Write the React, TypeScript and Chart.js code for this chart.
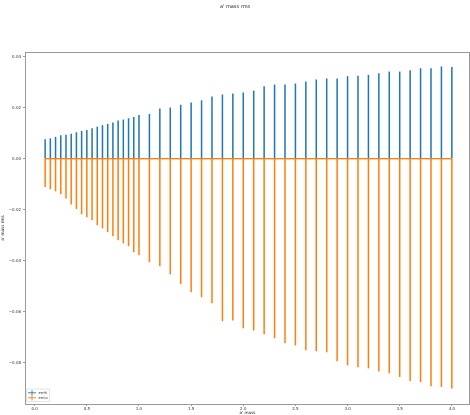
import React, { useEffect, useRef } from "react";
import { Chart, registerables } from "chart.js";

Chart.register(...registerables);

const massValues = [
  0.1, 0.15, 0.2, 0.25, 0.3, 0.35, 0.4, 0.45, 0.5, 0.55, 0.6, 0.65, 0.7, 0.75, 0.8, 0.85, 0.9, 0.95, 1.0,
  1.1, 1.2, 1.3, 1.4, 1.5, 1.6, 1.7, 1.8, 1.9, 2.0, 2.1, 2.2, 2.3, 2.4, 2.5, 2.6, 2.7, 2.8, 2.9, 3.0,
  3.1, 3.2, 3.3, 3.4, 3.5, 3.6, 3.7, 3.8, 3.9, 4.0,
];

const centralValues = massValues.map(() => 0);

const errHi = [
  0.0075, 0.0078, 0.0084, 0.009, 0.0092, 0.0096, 0.0102, 0.0107, 0.0111, 0.0118, 0.0124, 0.013, 0.0135,
  0.014, 0.0148, 0.0152, 0.0157, 0.0162, 0.017, 0.0174, 0.0195, 0.0199, 0.021, 0.0219, 0.0227, 0.0242,
  0.025, 0.0254, 0.0258, 0.0265, 0.0282, 0.0289, 0.0289, 0.0293, 0.0301, 0.0309, 0.0313, 0.0313, 0.0322,
  0.0324, 0.0327, 0.0333, 0.034, 0.034, 0.0345, 0.0353, 0.0353, 0.036, 0.0358,
];

const errLo = [
  0.011, 0.0119, 0.0127, 0.0138, 0.0155, 0.0179, 0.0196, 0.0217, 0.0229, 0.024, 0.026, 0.0272, 0.0287,
  0.0303, 0.0319, 0.0331, 0.0342, 0.0366, 0.0378, 0.0405, 0.0421, 0.0452, 0.0491, 0.0523, 0.0542, 0.0566,
  0.0636, 0.0633, 0.0664, 0.0672, 0.0687, 0.0703, 0.0723, 0.0731, 0.075, 0.0754, 0.0758, 0.0793, 0.0809,
  0.0817, 0.0821, 0.0833, 0.084, 0.0855, 0.0871, 0.0875, 0.0891, 0.0894, 0.09,
];

const xTicks = [0, 0.5, 1.0, 1.5, 2.0, 2.5, 3.0, 3.5, 4.0];
const yTicks = [-0.08, -0.06, -0.04, -0.02, 0.0, 0.02, 0.04];

const legendLabels = ["errHi", "errLo"];
const BLUE = "#1f77b4";
const ORANGE = "#ff7f0e";

const fmt = (v: number, d: number) => {
  const s = Math.abs(v) < 1e-12 ? (0).toFixed(d) : v.toFixed(d);
  return s.replace("-", "\u2212");
};

const framePlugin = {
  id: "frame",
  afterDatasetsDraw(chart: any) {
    const { ctx, chartArea } = chart;
    ctx.save();
    ctx.strokeStyle = "#9a9a9a";
    ctx.lineWidth = 1;
    ctx.beginPath();
    ctx.moveTo(chartArea.left, chartArea.top + 0.5);
    ctx.lineTo(chartArea.right, chartArea.top + 0.5);
    ctx.moveTo(chartArea.right - 0.5, chartArea.top);
    ctx.lineTo(chartArea.right - 0.5, chartArea.bottom);
    ctx.stroke();
    ctx.restore();
  },
};

const legendPlugin = {
  id: "errLegend",
  afterDraw(chart: any) {
    const { ctx, chartArea } = chart;
    const x0 = chartArea.left + 1.5;
    const y0 = chartArea.bottom - 15;
    const w = 23;
    const h = 12.5;
    ctx.save();
    ctx.fillStyle = "rgba(255,255,255,0.85)";
    ctx.strokeStyle = "#dddddd";
    ctx.lineWidth = 0.8;
    ctx.beginPath();
    ctx.rect(x0, y0, w, h);
    ctx.fill();
    ctx.stroke();
    const colors = [BLUE, ORANGE];
    legendLabels.forEach((label, i) => {
      const cy = y0 + 3.8 + i * 5;
      ctx.strokeStyle = colors[i];
      ctx.lineWidth = 0.9;
      ctx.beginPath();
      ctx.moveTo(x0 + 1.5, cy);
      ctx.lineTo(x0 + 9.5, cy);
      ctx.moveTo(x0 + 5.5, cy - 2.5);
      ctx.lineTo(x0 + 5.5, cy + 2.5);
      ctx.stroke();
      ctx.fillStyle = "#333";
      ctx.font = "3.6px 'DejaVu Sans'";
      ctx.textBaseline = "middle";
      ctx.textAlign = "left";
      ctx.fillText(label, x0 + 12, cy);
    });
    ctx.restore();
  },
};

export default function App() {
  const ref = useRef<HTMLCanvasElement | null>(null);

  useEffect(() => {
    document.body.style.margin = "0";
    const canvas = ref.current;
    if (!canvas) return;

    const hiData = massValues.map((x, i) => ({ x, y: [centralValues[i], centralValues[i] + errHi[i]] }));
    const loData = massValues.map((x, i) => ({ x, y: [centralValues[i] - errLo[i], centralValues[i]] }));
    const lineData = massValues.map((x, i) => ({ x, y: centralValues[i] }));

    const chart = new Chart(canvas, {
      type: "bar",
      data: {
        datasets: [
          {
            type: "bar",
            label: legendLabels[0],
            data: hiData as any,
            backgroundColor: BLUE,
            borderWidth: 0,
            barThickness: 0.85,
            grouped: false,
            order: 3,
          } as any,
          {
            type: "line",
            label: "hiLine",
            data: lineData as any,
            borderColor: BLUE,
            borderWidth: 1,
            pointRadius: 0,
            order: 2,
          } as any,
          {
            type: "bar",
            label: legendLabels[1],
            data: loData as any,
            backgroundColor: ORANGE,
            borderWidth: 0,
            barThickness: 0.85,
            grouped: false,
            order: 1,
          } as any,
          {
            type: "line",
            label: "loLine",
            data: lineData as any,
            borderColor: ORANGE,
            borderWidth: 1.1,
            pointRadius: 0,
            order: 0,
          } as any,
        ],
      },
      options: {
        responsive: false,
        animation: false,
        layout: { padding: { left: 0, right: 0, top: 0, bottom: 0 } },
        plugins: {
          legend: { display: false },
          tooltip: { enabled: false },
          title: {
            display: true,
            text: "a' mass rms",
            color: "#222",
            font: { family: "'DejaVu Sans'", size: 5, weight: "normal" },
            padding: { top: 4, bottom: 42 },
          },
        },
        scales: {
          x: {
            type: "linear",
            offset: false,
            min: -0.093,
            max: 4.174,
            afterBuildTicks: (scale: any) => {
              scale.ticks = xTicks.map((v) => ({ value: v }));
            },
            afterFit: (scale: any) => {
              scale.height = 11;
            },
            ticks: {
              autoSkip: false,
              maxRotation: 0,
              padding: 1,
              color: "#333",
              font: { family: "'DejaVu Sans'", size: 4 },
              callback: (v: any) => fmt(Number(v), 1),
            },
            grid: {
              display: true,
              offset: false,
              drawOnChartArea: false,
              drawTicks: true,
              tickLength: 2,
              color: "#9a9a9a",
            },
            border: { display: true, color: "#9a9a9a", width: 1 },
            title: {
              display: true,
              text: "a' mass",
              color: "#222",
              font: { family: "'DejaVu Sans'", size: 4.2 },
              padding: { top: 0, bottom: 0 },
            },
          },
          y: {
            type: "linear",
            min: -0.0962,
            max: 0.0418,
            afterBuildTicks: (scale: any) => {
              scale.ticks = yTicks.map((v) => ({ value: v }));
            },
            afterFit: (scale: any) => {
              scale.width = 25;
            },
            ticks: {
              autoSkip: false,
              padding: 2,
              color: "#333",
              font: { family: "'DejaVu Sans'", size: 4 },
              callback: (v: any) => fmt(Number(v), 2),
            },
            grid: { display: true, drawOnChartArea: false, drawTicks: true, tickLength: 2, color: "#9a9a9a" },
            border: { display: true, color: "#9a9a9a", width: 1 },
            title: {
              display: true,
              text: "a' mass rms",
              color: "#222",
              font: { family: "'DejaVu Sans'", size: 4.2 },
              padding: { top: 0, bottom: 0 },
            },
          },
        },
      } as any,
      plugins: [framePlugin, legendPlugin],
    });

    return () => chart.destroy();
  }, []);

  return (
    <div style={{ position: "fixed", left: 0, top: 0, width: 470, height: 415, background: "#fff" }}>
      <canvas ref={ref} width={470} height={415} style={{ width: 470, height: 415 }} />
    </div>
  );
}
